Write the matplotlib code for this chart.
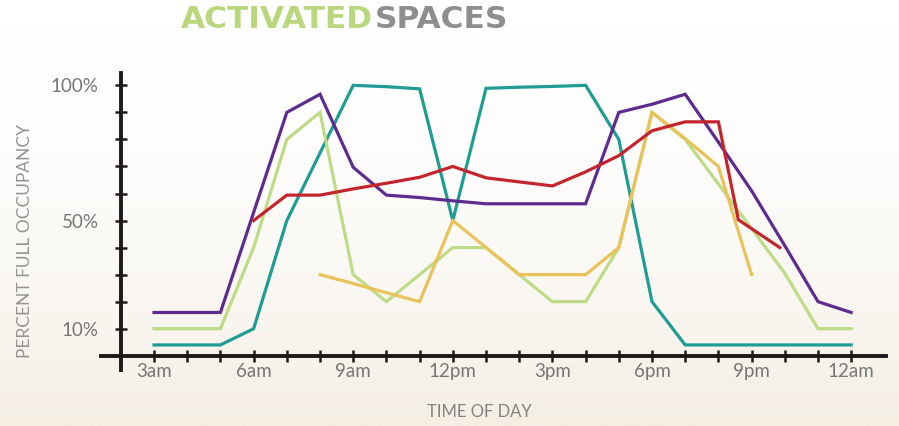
import numpy as np
import matplotlib
matplotlib.use("Agg")
from matplotlib import pyplot as plt
from matplotlib.ticker import FixedLocator

# hours of day (3 = 3am, 24 = 12am)
hours = list(range(3, 25))
teal_hours = hours
teal = [4, 4, 4, 10, 50, 75, 100, 99.5, 98.7, 50, 98.9, 99.3, 99.6, 100, 80, 20,
        4, 4, 4, 4, 4, 4]
purple_hours = hours
purple = [16, 16, 16, 53, 90, 96.7, 69.7, 59.4, 58.5, 57.3, 56.2, 56.2, 56.2, 56.2,
          90, 93, 96.7, 79, 61, 40.7, 20, 16]
green_hours = hours
green = [10, 10, 10, 40, 80, 90, 30, 20, 30, 40, 40, 30, 20, 20, 40, 90, 80, 63.5,
         47, 30.5, 10, 10]
red_hours = [6, 7, 8, 9, 10, 11, 12, 13, 14, 15, 16, 17, 18, 19, 20, 20.6, 21.85]
red = [50, 59.4, 59.4, 61.7, 63.8, 66, 70, 65.8, 64.3, 62.8, 68, 74, 83.2, 86.5,
       86.5, 50.3, 40]
yellow_hours = list(range(8, 22))
yellow = [30, 26.7, 23.3, 20, 50, 40, 30, 30, 30, 40, 90, 80.3, 70, 30]

xtick_labels = ["3am", "6am", "9am", "12pm", "3pm", "6pm", "9pm", "12am"]
ytick_vals = [10, 50, 100]

c_teal = "#1f9c94"
c_purple = "#5e2b8f"
c_green = "#bedb86"
c_red = "#c4252c"
c_yellow = "#e9c35a"
txt_gray = "#767676"

fig = plt.figure(figsize=(8.99, 4.26), dpi=100)
fig.patch.set_facecolor("white")

# soft warm background toward the bottom
bg = fig.add_axes([0, 0, 1, 1], zorder=0)
grad = np.linspace(0, 1, 256).reshape(-1, 1) ** 2
bg.imshow(grad, aspect="auto", cmap=matplotlib.colors.LinearSegmentedColormap.from_list(
    "bg", ["#ffffff", "#f4eee3"]), extent=[0, 1, 0, 1], origin="upper")
bg.axis("off")

ax = fig.add_axes([0, 0, 1, 1], zorder=1)
ax.patch.set_alpha(0)
ax.set_xlim(-1.64, 25.44)
ax.set_ylim(-25.98, 131.56)

lw = 2.3
ax.plot(teal_hours, teal, color=c_teal, lw=lw, solid_joinstyle="miter")
ax.plot(green_hours, green, color=c_green, lw=lw, solid_joinstyle="miter")
ax.plot(yellow_hours, yellow, color=c_yellow, lw=lw, solid_joinstyle="miter")
ax.plot(purple_hours, purple, color=c_purple, lw=lw, solid_joinstyle="miter")
ax.plot(red_hours, red, color=c_red, lw=lw, solid_joinstyle="miter")

for s in ["top", "right"]:
    ax.spines[s].set_visible(False)
ax.spines["left"].set_position(("data", 2))
ax.spines["bottom"].set_position(("data", 0))
ax.spines["left"].set_bounds(-5.4, 104.4)
ax.spines["bottom"].set_bounds(1.4, 25.05)
for s in ["left", "bottom"]:
    ax.spines[s].set_linewidth(2.8)
    ax.spines[s].set_color("#1e1a1a")

ax.xaxis.set_major_locator(FixedLocator(list(range(3, 25, 3))))
ax.xaxis.set_minor_locator(FixedLocator(hours))
ax.set_xticklabels(xtick_labels)
ax.yaxis.set_major_locator(FixedLocator(ytick_vals))
ax.yaxis.set_minor_locator(FixedLocator(list(range(10, 101, 10))))
ax.set_yticklabels([f"{v}%" for v in ytick_vals])

ax.tick_params(axis="both", which="both", direction="inout", length=8, width=1.8,
               color="#1e1a1a")
ax.tick_params(axis="x", which="major", pad=1, labelsize=13.5, labelcolor=txt_gray)
ax.tick_params(axis="y", which="major", pad=12, labelsize=13.5, labelcolor=txt_gray)
for lab in ax.get_xticklabels() + ax.get_yticklabels():
    lab.set_family("Lato")

fig.text(25 / 899, 1 - 241 / 426, "PERCENT FULL OCCUPANCY", rotation=90, ha="center",
         va="center", fontsize=12.5, color="#939393", family="Lato")
fig.text(479 / 899, 1 - 412 / 426, "TIME OF DAY", ha="center", va="center",
         fontsize=12, color="#828282", family="Lato")

fig.text(373 / 899, 1 - 19 / 426, "ACTIVATED", ha="right", va="center", fontsize=22.5,
         color="#b9d77c", fontweight="bold", family="DejaVu Sans")
fig.text(375 / 899, 1 - 19 / 426, "SPACES", ha="left", va="center", fontsize=22.5,
         color="#8e8e90", fontweight="bold", family="DejaVu Sans")

fig.savefig("out.png", dpi=100)
